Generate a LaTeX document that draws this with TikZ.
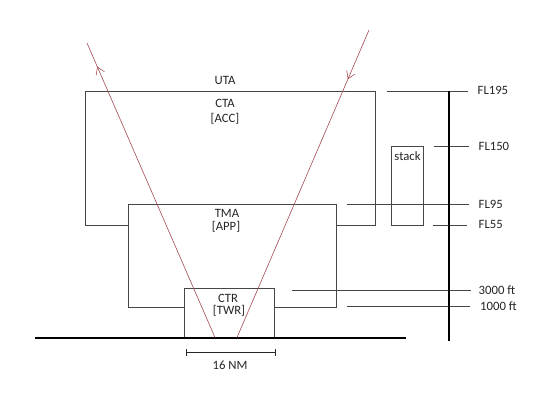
\documentclass[tikz,border=0pt]{standalone}
\usepackage{fontspec}
\setmainfont{Carlito}
\usetikzlibrary{arrows.meta,decorations.markings,calc}
\definecolor{boxgray}{RGB}{70,70,70}
\definecolor{pathred}{RGB}{165,75,82}
\tikzset{
  box/.style={draw=boxgray,line width=0.8pt},
  tick/.style={draw=boxgray,line width=0.8pt},
  lbl/.style={inner sep=0pt,font=\fontsize{12.7}{14}\selectfont,text=black!85},
  lblw/.style={lbl,anchor=west},
  thick line/.style={draw=black,line width=2pt},
  flight/.style={draw=pathred,line width=0.6pt},
  arrowat/.style={postaction={decorate,decoration={markings,
      mark=at position #1 with {\arrow{Straight Barb[length=7pt,width=9pt,line width=0.6pt]}}}}}
}
\begin{document}
\begin{tikzpicture}[x=1pt,y=-1pt]
\useasboundingbox[fill=white] (0,0) rectangle (540,401);
% coordinates
\coordinate (g1) at (35,337.5);
\coordinate (g2) at (406,337.5);
\coordinate (ax1) at (448.5,91);
\coordinate (ax2) at (448.5,340.5);
% CTA outline
\draw[box] (128,225) -- (85,225) -- (85,91) -- (375,91) -- (375,225) -- (336,225);
% TMA outline
\draw[box] (184,307) -- (128,307) -- (128,204) -- (336,204) -- (336,307) -- (274,307);
% CTR box
\draw[box] (184,337.5) -- (184,288.5) -- (274,288.5) -- (274,337.5);
% stack box
\draw[box] (391,146) rectangle (423,225.5);
% ticks
\draw[tick] (387,91) -- (468,91);
\draw[tick] (434,146.5) -- (469,146.5);
\draw[tick] (347,204.5) -- (469,204.5);
\draw[tick] (433,225.5) -- (467,225.5);
\draw[tick] (291.5,290) -- (471,290);
\draw[tick] (347,306) -- (470,306);
% ground and axis
\draw[thick line] (g1) -- (g2);
\draw[thick line] (ax1) -- (ax2);
% 16 NM dimension
\coordinate (d1) at (186.5,352.5);
\coordinate (d2) at (275,352.5);
\draw[tick,line width=0.7pt,draw=black!85] (d1) -- (d2);
\draw[tick,line width=0.7pt,draw=black!85] ($(d1)+(0,-3.5)$) -- ($(d1)+(0,3.5)$);
\draw[tick,line width=0.7pt,draw=black!85] ($(d2)+(0,-3.5)$) -- ($(d2)+(0,3.5)$);
% flight paths
\coordinate (l1) at (215,337.5);
\coordinate (l2) at (87,43);
\coordinate (r1) at (369,30);
\coordinate (r2) at (237,337.5);
\draw[flight,arrowat=0.92] (l1) -- (l2);
\draw[flight,arrowat=0.16] (r1) -- (r2);
% labels
\node[lbl] (uta) at (225,80) {UTA};
\node[lbl] (cta) at (225,103) {CTA};
\node[lbl] (acc) at (225,119) {[ACC]};
\node[lbl] (tma) at (227,213) {TMA};
\node[lbl] (app) at (226,227) {[APP]};
\node[lbl] (ctr) at (228,298.5) {CTR};
\node[lbl] (twr) at (229,310.5) {[TWR]};
\node[lbl] (nm) at (230,365) {16 NM};
\node[lbl] (stack) at (407.5,156) {stack};
\node[lblw] (fl195) at (477.5,90) {FL195};
\node[lblw] (fl150) at (478.5,146.5) {FL150};
\node[lblw] (fl95) at (478.5,204.5) {FL95};
\node[lblw] (fl55) at (478.5,224.5) {FL55};
\node[lblw] (f3000) at (478.5,290.5) {3000 ft};
\node[lblw] (f1000) at (480,306) {1000 ft};
\end{tikzpicture}
\end{document}
